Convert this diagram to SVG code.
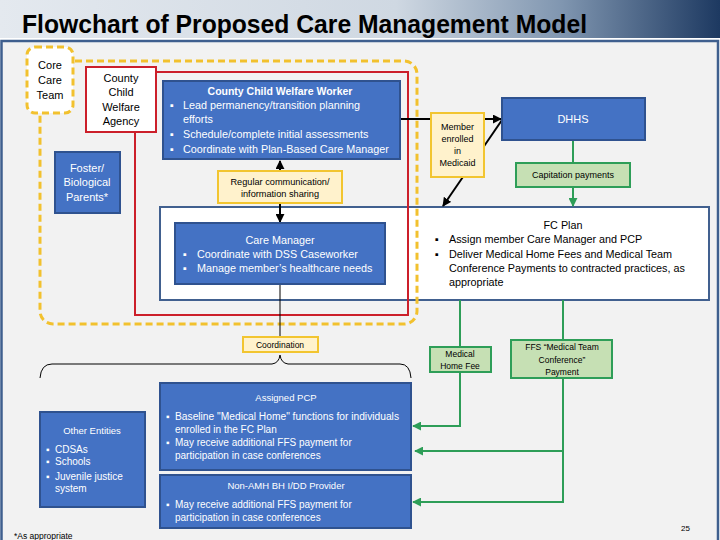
<svg xmlns="http://www.w3.org/2000/svg" width="720" height="540" viewBox="0 0 720 540">
<defs>
<linearGradient id="hdr" x1="0" y1="0" x2="1" y2="0">
<stop offset="0" stop-color="#e4e9ef"/>
<stop offset="0.55" stop-color="#cfd8e2"/>
<stop offset="0.78" stop-color="#8096b0"/>
<stop offset="1" stop-color="#1d3961"/>
</linearGradient>
<marker id="ab" viewBox="0 0 10 10" refX="9" refY="5" markerWidth="9" markerHeight="9" markerUnits="userSpaceOnUse" orient="auto-start-reverse">
<path d="M0,0 L10,5 L0,10 z" fill="#000"/>
</marker>
<marker id="ag" viewBox="0 0 10 10" refX="9" refY="5" markerWidth="9" markerHeight="9" markerUnits="userSpaceOnUse" orient="auto">
<path d="M0,0 L10,5 L0,10 z" fill="#2e9e58"/>
</marker>
<style>
text{font-family:"Liberation Sans",Arial,sans-serif;}
.blue{fill:#4472c4;stroke:#2f528f;stroke-width:2;}
.yel{fill:#fff2cc;stroke:#f2c530;stroke-width:2;}
.grn{fill:#c6e0b4;stroke:#2e9e58;stroke-width:2;}
.w{fill:#fff;}
.k{fill:#000;}
.c{text-anchor:middle;}
.f11{font-size:11px;}
.f10{font-size:10.8px;}
.fp{font-size:10px;}
.f9{font-size:9px;}
.f8{font-size:8.5px;}
.bk{stroke:#000;stroke-width:2;fill:none;}
.thin{stroke:#000;stroke-width:1;fill:none;}
.gl{stroke:#2e9e58;stroke-width:2;fill:none;}
</style>
</defs>

<g id="background">
<rect x="0" y="0" width="720" height="540" fill="#fff"/>
<rect x="0" y="0" width="720" height="38" fill="url(#hdr)"/>
<rect x="1.5" y="41" width="716.5" height="502" fill="#f2f2f2" stroke="#3f5f8e" stroke-width="2.5"/>
<text x="22" y="33" font-size="25" font-weight="bold" fill="#000" textLength="565" lengthAdjust="spacingAndGlyphs">Flowchart of Proposed Care Management Model</text>
</g>

<g id="fc-plan">
<rect x="160" y="207" width="549" height="93" fill="#fff" stroke="#41608f" stroke-width="2"/>
<text class="k c f10" x="563" y="229">FC Plan</text>
<text class="k f10" x="435" y="243">▪</text>
<text class="k f10" x="449" y="243">Assign member Care Manager and PCP</text>
<text class="k f10" x="435" y="258">▪</text>
<text class="k f10" x="449" y="258">Deliver Medical Home Fees and Medical Team</text>
<text class="k f10" x="449" y="272">Conference Payments to contracted practices, as</text>
<text class="k f10" x="449" y="286">appropriate</text>
</g>

<g id="core-care-team-region">
<rect x="40" y="61" width="377" height="263" rx="13" fill="none" stroke="#f2c12e" stroke-width="3" stroke-dasharray="7,4"/>
</g>

<g id="county-agency-region">
<rect x="135" y="72" width="273" height="243" fill="none" stroke="#cc1f2a" stroke-width="2"/>
</g>

<g id="connectors">
<line class="bk" x1="280" y1="161" x2="280" y2="222" marker-start="url(#ab)" marker-end="url(#ab)"/>
<line class="bk" x1="400" y1="119" x2="501" y2="119" marker-end="url(#ab)"/>
<line class="bk" x1="502" y1="120" x2="443" y2="206" marker-end="url(#ab)"/>
<line class="gl" x1="573" y1="140" x2="573" y2="206" marker-end="url(#ag)"/>
<line class="thin" x1="280" y1="284" x2="280" y2="337"/>
<path class="thin" d="M40,378 Q41,364 52,364 L272,364 Q279,363 280,355 Q281,363 288,364 L400,364 Q410,364 411,378"/>
<line class="gl" x1="460" y1="300" x2="460" y2="347"/>
<polyline class="gl" points="460,372 460,426 413,426" marker-end="url(#ag)"/>
<line class="gl" x1="563" y1="300" x2="563" y2="340"/>
<polyline class="gl" points="563,378 563,451 415,451" marker-end="url(#ag)"/>
<polyline class="gl" points="563,451 563,502 413,502" marker-end="url(#ag)"/>
</g>

<g id="core-care-team">
<rect x="27" y="47" width="46" height="66" rx="8" fill="#fff" stroke="#f2c12e" stroke-width="3" stroke-dasharray="7,4"/>
<text class="k c f11" x="50" y="69">Core</text>
<text class="k c f11" x="50" y="84">Care</text>
<text class="k c f11" x="50" y="99">Team</text>
</g>

<g id="county-child-welfare-agency">
<rect x="86" y="67" width="70" height="65" fill="#fff" stroke="#cc1f2a" stroke-width="2"/>
<text class="k c f11" x="121" y="82">County</text>
<text class="k c f11" x="121" y="96">Child</text>
<text class="k c f11" x="121" y="111">Welfare</text>
<text class="k c f11" x="121" y="125">Agency</text>
</g>

<g id="county-child-welfare-worker">
<rect class="blue" x="163" y="81" width="237" height="78"/>
<text class="w c" font-size="10.5" x="280" y="95" font-weight="bold">County Child Welfare Worker</text>
<text class="w f10" x="170" y="109">▪</text>
<text class="w f10" x="183" y="109">Lead permanency/transition planning</text>
<text class="w f10" x="183" y="123">efforts</text>
<text class="w f10" x="170" y="138">▪</text>
<text class="w f10" x="183" y="138">Schedule/complete initial assessments</text>
<text class="w f10" x="170" y="153">▪</text>
<text class="w f10" x="183" y="153">Coordinate with Plan-Based Care Manager</text>
</g>

<g id="foster-parents">
<rect class="blue" x="55" y="152" width="65" height="61"/>
<text class="w c f11" x="87" y="172">Foster/</text>
<text class="w c f11" x="87" y="186">Biological</text>
<text class="w c f11" x="87" y="201">Parents*</text>
</g>

<g id="regular-communication">
<rect class="yel" x="218" y="171" width="124" height="32"/>
<text class="k c" font-size="9.2" x="280" y="185">Regular communication/</text>
<text class="k c" font-size="9.2" x="280" y="197">information sharing</text>
</g>

<g id="care-manager">
<rect class="blue" x="175" y="223" width="210" height="61"/>
<text class="w c f10" x="280" y="244">Care Manager</text>
<text class="w f10" x="183" y="258">▪</text>
<text class="w f10" x="197" y="258">Coordinate with DSS Caseworker</text>
<text class="w f10" x="183" y="272">▪</text>
<text class="w f10" x="197" y="272">Manage member’s healthcare needs</text>
</g>

<g id="member-enrolled">
<rect class="yel" x="431" y="113" width="53" height="64"/>
<text class="k c f9" x="457.5" y="130">Member</text>
<text class="k c f9" x="457.5" y="142">enrolled</text>
<text class="k c f9" x="457.5" y="154">in</text>
<text class="k c f9" x="457.5" y="166">Medicaid</text>
</g>

<g id="dhhs">
<rect class="blue" x="502" y="98" width="143" height="42"/>
<text class="w c f11" x="573" y="123">DHHS</text>
</g>

<g id="capitation-payments">
<rect class="grn" x="516" y="163" width="114" height="24"/>
<text class="k c f9" x="573" y="178">Capitation payments</text>
</g>

<g id="coordination">
<rect class="yel" x="243" y="337" width="75" height="15"/>
<text class="k c f8" x="280" y="347.5">Coordination</text>
</g>

<g id="medical-home-fee">
<rect class="grn" x="430" y="347" width="61" height="25"/>
<text class="k c f8" x="460" y="357">Medical</text>
<text class="k c f8" x="460" y="369">Home Fee</text>
</g>

<g id="ffs-payment">
<rect class="grn" x="511" y="340" width="101" height="38"/>
<text class="k c f8" x="562" y="350">FFS “Medical Team</text>
<text class="k c f8" x="562" y="363">Conference”</text>
<text class="k c f8" x="562" y="375">Payment</text>
</g>

<g id="assigned-pcp">
<rect class="blue" x="160" y="383" width="251" height="87"/>
<text class="w c" font-size="9.5" x="286" y="401">Assigned PCP</text>
<text class="w fp" x="166" y="420">▪</text>
<text class="w fp" x="175" y="420" textLength="224" lengthAdjust="spacingAndGlyphs">Baseline "Medical Home" functions for individuals</text>
<text class="w fp" x="175" y="433">enrolled in the FC Plan</text>
<text class="w fp" x="166" y="446">▪</text>
<text class="w fp" x="175" y="446">May receive additional FFS payment for</text>
<text class="w fp" x="175" y="459">participation in case conferences</text>
</g>

<g id="non-amh-provider">
<rect class="blue" x="160" y="475" width="251" height="53"/>
<text class="w c" font-size="9.5" x="286" y="489">Non-AMH BH I/DD Provider</text>
<text class="w fp" x="166" y="508">▪</text>
<text class="w fp" x="175" y="508">May receive additional FFS payment for</text>
<text class="w fp" x="175" y="521">participation in case conferences</text>
</g>

<g id="other-entities">
<rect class="blue" x="40" y="412" width="105" height="95"/>
<text class="w c" font-size="9.5" x="92" y="434">Other Entities</text>
<text class="w fp" x="46" y="453">▪</text>
<text class="w fp" x="55" y="453">CDSAs</text>
<text class="w fp" x="46" y="465">▪</text>
<text class="w fp" x="55" y="465">Schools</text>
<text class="w fp" x="46" y="480">▪</text>
<text class="w fp" x="55" y="480">Juvenile justice</text>
<text class="w fp" x="55" y="492">system</text>
</g>

<g id="footer">
<text class="k" x="14" y="539" font-size="8.5">*As appropriate</text>
<text class="k" x="681" y="531" font-size="8">25</text>
</g>
</svg>
